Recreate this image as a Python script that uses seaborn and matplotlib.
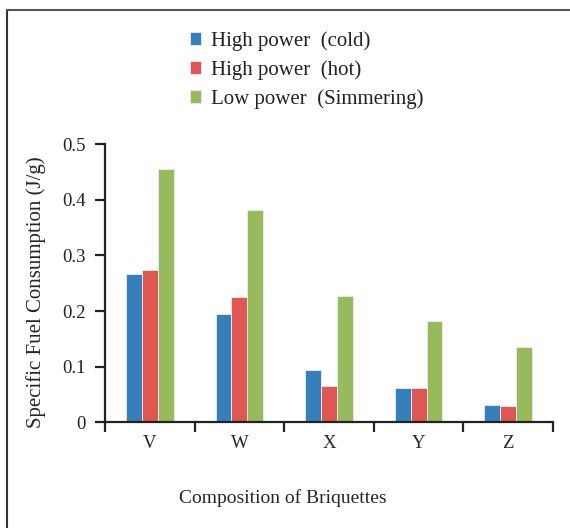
import pandas as pd
import matplotlib.pyplot as plt
import seaborn as sns
from matplotlib.lines import Line2D

# ---- Data ----
briquettes = ["V", "W", "X", "Y", "Z"]
high_cold = [0.266, 0.194, 0.094, 0.062, 0.032]
high_hot = [0.274, 0.226, 0.065, 0.062, 0.029]
low_simmer = [0.456, 0.381, 0.227, 0.182, 0.135]
series_names = ["High power  (cold)", "High power  (hot)", "Low power  (Simmering)"]
colors = ["#3580BA", "#DE5753", "#97BA5C"]

df = pd.DataFrame({
    "Briquette": briquettes * 3,
    "Series": [series_names[0]] * 5 + [series_names[1]] * 5 + [series_names[2]] * 5,
    "SFC": high_cold + high_hot + low_simmer,
})

sns.set_style("ticks")
plt.rcParams["font.family"] = ["Liberation Serif", "DejaVu Serif"]
plt.rcParams["axes.linewidth"] = 1.6
plt.rcParams["text.color"] = "#222222"

fig = plt.figure(figsize=(5.7, 5.28), dpi=100)
ax = fig.add_axes([0.1842, 0.2002, 0.7860, 0.5265])

sns.barplot(data=df, x="Briquette", y="SFC", hue="Series", order=briquettes,
            hue_order=series_names, palette=colors, width=0.53,
            edgecolor="#e8eef5", linewidth=0.6, saturation=1, ax=ax)

# ---- Axes styling ----
ax.set_ylim(0, 0.5)
ax.set_xlim(-0.5, 4.5)
ax.set_yticks([0, 0.1, 0.2, 0.3, 0.4, 0.5])
ax.set_yticklabels(["0", "0.1", "0.2", "0.3", "0.4", "0.5"])
ax.set_xticks([i - 0.5 for i in range(6)])
ax.set_xticklabels([""] * 6)
ax.set_xticks(range(5), minor=True)
ax.set_xticklabels(briquettes, minor=True)
ax.tick_params(axis="x", which="minor", length=0, pad=9, labelsize=13.5)
ax.tick_params(axis="both", which="major", length=7, width=1.6, color="#222222",
               labelsize=13.5, labelcolor="#222222", direction="out")
ax.tick_params(axis="y", pad=7)
for side in ["top", "right"]:
    ax.spines[side].set_visible(False)
ax.spines["left"].set_color("#222222")
ax.spines["bottom"].set_color("#222222")

ax.set_xlabel("Composition of Briquettes", fontsize=14)
ax.xaxis.set_label_coords((282.5 - 105) / 448, -0.24)
ax.set_ylabel("Specific Fuel Consumption (J/g)", fontsize=15)
ax.yaxis.set_label_coords(-0.132, 0.467)

# ---- Legend ----
handles, labels = ax.get_legend_handles_labels()
ax.legend(handles, labels, loc="upper left", bbox_to_anchor=(190 / 570, 1 - 31 / 528),
          bbox_transform=fig.transFigure, frameon=False, fontsize=15,
          handlelength=0.55, handleheight=0.55, handletextpad=0.45,
          labelspacing=0.45, borderaxespad=0, borderpad=0)

# ---- Frame lines around figure (top and left only, as in the reference) ----
fig.add_artist(Line2D([7 / 570, 7 / 570], [0, 1 - 10 / 528], transform=fig.transFigure,
                      color="#333333", linewidth=1.5))
fig.add_artist(Line2D([7 / 570, 1], [1 - 10 / 528, 1 - 10 / 528], transform=fig.transFigure,
                      color="#555555", linewidth=1.5))

fig.savefig("out.png", dpi=100)
